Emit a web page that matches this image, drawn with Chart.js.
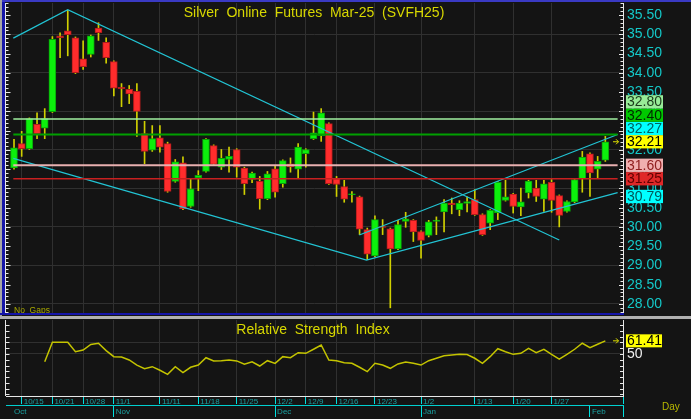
<!DOCTYPE html>
<html>
<head>
<meta charset="utf-8">
<script src="https://cdn.jsdelivr.net/npm/chart.js@4.4.1/dist/chart.umd.min.js"></script>
<style>
html, body { margin: 0; padding: 0; background: #141414; }
#wrap { position: relative; width: 691px; height: 419px; overflow: hidden; background: #141414; }
canvas { position: absolute; left: 0; }
#main { top: 0; width: 691px; height: 314px; }
#rsi { top: 319px; width: 691px; height: 100px; }
.band { position: absolute; z-index: 5; }
</style>
</head>
<body>
<div id="wrap">
  <canvas id="main" width="691" height="314"></canvas>
  <canvas id="rsi" width="691" height="100"></canvas>
  <div class="band" style="left:0;top:0;width:691px;height:2px;background:#3a3ac4"></div>
  <div class="band" style="left:0;top:0;width:2px;height:316px;background:#a4a4a4"></div>
  <div class="band" style="left:2px;top:2px;width:3px;height:312px;background:#1414a8"></div>
  <div class="band" style="left:0;top:313px;width:624px;height:2px;background:#1414a8"></div>
  <div class="band" style="left:0;top:316px;width:691px;height:3px;background:#b0b0b0"></div>
</div>
<script>
// daily bars, Silver Mar-25, oldest first
const opens = [31.53,32.16,32.03,32.66,32.56,32.99,34.96,35.09,34.91,34.36,
  34.48,35.16,34.79,34.29,33.62,33.57,33.52,32.42,31.99,32.31,
  32.16,31.18,31.66,30.53,31.27,31.44,32.11,31.55,31.75,32.01,
  31.53,31.23,31.18,30.73,31.51,31.12,31.64,31.50,31.90,32.29,
  32.37,32.68,31.25,31.05,30.84,30.78,29.93,29.25,30.01,29.95,
  29.43,30.14,30.17,29.88,29.78,30.14,30.39,30.62,30.45,30.61,
  30.71,30.32,30.10,30.36,30.69,30.85,30.52,30.88,31.01,30.72,
  31.16,30.81,30.40,30.65,31.25,31.90,31.50,31.73];
const highs = [32.27,32.48,32.83,32.96,33.07,34.94,35.04,35.62,34.93,34.83,
  34.98,35.30,34.91,34.31,33.72,33.67,33.72,32.74,32.63,32.63,
  32.20,31.75,31.82,31.24,31.46,32.29,32.13,32.01,32.07,32.03,
  31.55,31.42,31.31,31.44,31.57,31.74,31.79,32.16,32.03,32.98,
  33.07,32.70,31.31,31.21,30.92,30.80,29.97,30.29,30.19,29.97,
  30.17,30.38,30.19,29.90,30.17,30.26,30.71,30.75,30.68,30.78,
  30.97,30.34,30.45,31.18,31.21,30.87,31.01,31.21,31.21,31.21,
  31.23,30.83,30.68,31.25,31.96,31.92,31.83,32.35];
const lows = [31.50,31.83,32.01,32.29,32.29,32.97,34.39,34.44,33.98,34.09,
  34.41,34.84,34.25,33.40,33.12,33.20,32.35,31.64,31.96,31.94,
  30.90,31.16,30.45,30.51,30.94,31.42,31.60,31.49,31.42,31.29,
  30.84,31.15,30.46,30.71,30.77,31.03,31.42,31.27,31.55,32.27,
  32.22,31.10,30.79,30.64,30.64,29.80,29.15,29.23,29.80,27.90,
  29.41,29.99,29.62,29.19,29.74,29.80,29.87,30.34,30.29,30.39,
  30.30,29.78,29.93,30.19,30.67,30.36,30.29,30.75,30.66,30.40,
  30.38,30.00,30.38,30.63,30.90,30.79,31.27,31.70];
const closes = [32.05,32.03,32.81,32.42,32.81,34.87,34.91,34.99,34.00,34.16,
  34.96,35.04,34.39,33.60,33.59,33.45,33.00,31.96,32.29,32.07,
  30.92,31.69,30.47,30.99,31.34,32.27,31.62,31.78,31.83,31.55,
  31.12,31.40,30.73,31.38,30.90,31.72,31.56,32.07,32.01,32.44,
  32.96,31.12,31.10,30.72,30.86,29.94,29.29,30.19,29.99,29.43,
  30.06,30.21,29.87,29.65,30.13,30.18,30.62,30.58,30.62,30.66,
  30.32,29.80,30.43,31.16,30.78,30.53,30.65,31.19,30.79,31.12,
  30.69,30.30,30.66,31.23,31.81,31.40,31.70,32.21];
const rsi = [null,null,null,null,43.3,60.1,60.1,60.1,52.0,53.4,
  58.3,59.3,52.9,47.7,47.4,44.8,40.4,37.3,39.0,35.9,
  32.4,39.0,33.8,38.5,40.4,46.8,44.0,44.2,44.8,44.0,
  41.1,43.3,39.6,44.2,41.9,47.7,46.8,51.1,50.6,54.1,
  57.8,44.8,44.2,42.5,41.9,38.5,34.7,41.9,40.4,37.6,
  41.4,43.0,41.9,40.4,44.2,46.3,48.5,49.2,49.7,49.5,
  46.3,41.9,47.7,54.6,52.0,49.7,50.6,54.9,51.1,54.1,
  49.7,45.6,49.7,54.1,59.3,55.5,58.4,61.41];

// tick labels (bar index -> label)
const weekIdx = [1,5,9,13,19,24,29,34,38,42,47,53,60,65,70];
const weekLabels = ['10/15','10/21','10/28','11/1','11/11','11/18','11/25','12/2','12/9','12/16','12/23','1/2','1/13','1/20','1/27'];
const monthIdx = [-0.26,13,34,53,75];
const monthLabels = ['Oct','Nov','Dec','Jan','Feb'];
const priceTicks = [28,28.5,29,29.5,30,30.5,31,31.5,32,32.5,33,33.5,34,34.5,35,35.5];

// drawing tools: horizontal levels and trend channels, [barIndex, price]
const levels = [32.80, 32.40, 31.60, 31.25];
const lineFrom = -0.09, lineTo = 78.6;
const trendDown = [[-0.09,34.90],[7.0,35.64],[71.0,29.66]];
const trendLow = [[-0.09,31.78],[45.9,29.14],[78.6,30.89]];
const trendUp = [[44.96,29.79],[78.6,32.40]];
// price boxes on the right axis
const boxValues = [32.80, 32.40, 32.27, 32.21, 31.60, 31.25, 30.79];
const rsiLast = 61.41;

// styles
const upColor = '#0cf00c', downColor = '#ff2c2c';
const upEdge = '#08a008', downEdge = '#b01c1c';
const wickColor = '#d0d000';
const gridColor = '#303030';
const axisText = '#14c8c8';
const levelColors = ['#a0f0a0', '#00a000', '#e8b0b0', '#c82020'];
const levelWidths = [1.5, 2, 2, 1.5];
const channelColor = '#22c4d4';
const boxBg = ['#98ec98', '#00c800', '#00ffff', '#ffff00', '#f0b0b0', '#e02828', '#00ffff'];
const boxFg = ['#1a3a1a', '#002800', '#006060', '#000000', '#902020', '#600000', '#005858'];
const xMin = -1.042, xMax = 79.30;

const idx = closes.map((_, i) => i);
const isUp = idx.map(i => closes[i] >= opens[i]);

const lineSets = levels.map((v, k) => ({
  type: 'line', data: [{x: lineFrom, y: v}, {x: lineTo, y: v}],
  borderColor: levelColors[k], borderWidth: levelWidths[k], pointRadius: 0
}));
[trendDown, trendLow, trendUp].forEach(t => lineSets.push({
  type: 'line', data: t.map(p => ({x: p[0], y: p[1]})),
  borderColor: channelColor, borderWidth: 1.2, pointRadius: 0, tension: 0
}));

function zeroPad(s) { s.paddingTop = 0; s.paddingBottom = 0; s.paddingLeft = 0; s.paddingRight = 0; }

const mainDecor = {
  id: 'mainDecor',
  afterDraw(chart) {
    const {ctx, chartArea: a} = chart;
    const y = chart.scales.y;
    ctx.save();
    ctx.strokeStyle = '#e8e8e8';
    ctx.lineWidth = 1;
    ctx.beginPath();
    ctx.moveTo(a.left - 0.5, a.top); ctx.lineTo(a.left - 0.5, a.bottom);
    for (let k = Math.ceil(y.min * 10); k <= Math.floor(y.max * 10); k++) {
      const py = Math.round(y.getPixelForValue(k / 10)) + 0.5;
      const major = k % 5 === 0;
      ctx.moveTo(a.left - 0.5, py); ctx.lineTo(a.left - 0.5 + (major ? 5 : 3), py);
      ctx.moveTo(a.right, py); ctx.lineTo(a.right - (major ? 4 : 2.5), py);
    }
    ctx.stroke();

    // price boxes, pushed up so they do not overlap
    const h = 13.3;
    const bx = boxValues.map((v, i) => ({v: v, i: i, py: y.getPixelForValue(v)}));
    bx.sort((p, q) => q.py - p.py);
    let prev = Infinity;
    bx.forEach(b => { b.cy = Math.min(b.py, prev - h); prev = b.cy; });
    ctx.font = '14px Arial';
    ctx.textAlign = 'left';
    ctx.textBaseline = 'middle';
    bx.forEach(b => {
      ctx.fillStyle = boxBg[b.i];
      ctx.fillRect(626, b.cy - h / 2, 37, h);
      ctx.fillStyle = boxFg[b.i];
      ctx.fillText(b.v.toFixed(2), 627, b.cy + 0.5);
    });

    // last price arrow
    const ly = y.getPixelForValue(closes[closes.length - 1]);
    ctx.strokeStyle = '#e0e000';
    ctx.beginPath();
    ctx.moveTo(613, ly); ctx.lineTo(618.5, ly);
    ctx.moveTo(616, ly - 2.5); ctx.lineTo(618.5, ly); ctx.lineTo(616, ly + 2.5);
    ctx.stroke();

    ctx.fillStyle = '#d8d800';
    ctx.textAlign = 'center';
    ctx.textBaseline = 'alphabetic';
    ctx.font = '14px Arial';
    ctx.fillText('Silver  Online  Futures  Mar-25  (SVFH25)', 314, 16.5);
    ctx.fillStyle = '#a8a800';
    ctx.textAlign = 'left';
    ctx.font = '8.5px Arial';
    ctx.fillText('No  Gaps', 14, 313);
    ctx.restore();
  }
};

new Chart(document.getElementById('main'), {
  type: 'bar',
  data: {
    datasets: lineSets.concat([
      {
        type: 'bar', label: 'body', grouped: false, barThickness: 7,
        data: idx.map(i => ({x: i, y: [opens[i], closes[i]]})),
        backgroundColor: idx.map(i => isUp[i] ? upColor : downColor),
        borderColor: idx.map(i => isUp[i] ? upEdge : downEdge),
        borderWidth: 1, borderSkipped: false
      },
      {
        type: 'bar', label: 'wick', grouped: false, barThickness: 1,
        data: idx.map(i => ({x: i, y: [lows[i], highs[i]]})),
        backgroundColor: wickColor
      }
    ])
  },
  options: {
    responsive: false,
    devicePixelRatio: 1,
    animation: false,
    layout: {padding: {left: 6, right: 0, top: 3, bottom: 1}, autoPadding: false},
    plugins: {legend: {display: false}, tooltip: {enabled: false}, title: {display: false}},
    scales: {
      x: {
        type: 'linear', min: xMin, max: xMax, offset: false,
        grid: {color: gridColor, drawTicks: false, offset: false},
        border: {display: false},
        ticks: {display: false},
        afterBuildTicks: s => { s.ticks = weekIdx.map(v => ({value: v})); },
        afterFit: s => { s.height = 0; zeroPad(s); }
      },
      y: {
        type: 'linear', position: 'right', min: 27.7657, max: 35.8114,
        grid: {
          color: c => (c.tick && Number.isInteger(c.tick.value)) ? gridColor : 'rgba(0,0,0,0)',
          drawTicks: false
        },
        border: {color: '#e8e8e8', width: 1},
        ticks: {
          color: axisText, font: {family: 'Arial', size: 14}, padding: 4, crossAlign: 'near',
          autoSkip: false,
          callback: v => v.toFixed(2)
        },
        afterBuildTicks: s => { s.ticks = priceTicks.map(v => ({value: v})); },
        afterFit: s => { s.width = 68; zeroPad(s); }
      }
    }
  },
  plugins: [mainDecor]
});

const rsiDecor = {
  id: 'rsiDecor',
  afterDraw(chart) {
    const {ctx, chartArea: a} = chart;
    const y = chart.scales.y;
    ctx.save();
    ctx.strokeStyle = '#e8e8e8';
    ctx.lineWidth = 1;
    ctx.beginPath();
    ctx.moveTo(a.left - 0.5, a.top); ctx.lineTo(a.left - 0.5, a.bottom);
    for (let v = 15; v <= 75; v += 5) {
      const py = Math.round(y.getPixelForValue(v)) + 0.5;
      ctx.moveTo(a.left - 0.5, py); ctx.lineTo(a.left + 3.5, py);
      ctx.moveTo(a.right, py); ctx.lineTo(a.right - 3, py);
    }
    ctx.stroke();

    const ry = y.getPixelForValue(rsiLast);
    ctx.fillStyle = '#ffff00';
    ctx.fillRect(626, ry - 6.5, 36, 13);
    ctx.fillStyle = '#000000';
    ctx.font = '14px Arial';
    ctx.textBaseline = 'middle';
    ctx.textAlign = 'left';
    ctx.fillText(rsiLast.toFixed(2), 627, ry + 0.5);
    ctx.strokeStyle = '#e0e000';
    ctx.beginPath();
    ctx.moveTo(613, ry); ctx.lineTo(618.5, ry);
    ctx.moveTo(616, ry - 2.5); ctx.lineTo(618.5, ry); ctx.lineTo(616, ry + 2.5);
    ctx.stroke();

    ctx.textBaseline = 'alphabetic';
    ctx.textAlign = 'center';
    ctx.fillStyle = '#d8d800';
    ctx.fillText('Relative  Strength  Index', 313, 14.5);
    ctx.textAlign = 'left';
    ctx.fillStyle = '#b8b800';
    ctx.font = '10px Arial';
    ctx.fillText('Day', 662, 91);
    ctx.restore();
  }
};

new Chart(document.getElementById('rsi'), {
  type: 'line',
  data: {
    datasets: [{
      data: idx.filter(i => rsi[i] !== null).map(i => ({x: i, y: rsi[i]})),
      borderColor: '#c4c400', borderWidth: 1.5, pointRadius: 0, tension: 0
    }]
  },
  options: {
    responsive: false,
    devicePixelRatio: 1,
    animation: false,
    layout: {padding: {left: 6, right: 0, top: 1, bottom: 0}, autoPadding: false},
    plugins: {legend: {display: false}, tooltip: {enabled: false}},
    scales: {
      x: {
        type: 'linear', position: 'bottom', min: xMin, max: xMax, offset: false, weight: 0,
        grid: {color: gridColor, tickColor: '#00e0e0', tickLength: 8},
        border: {color: '#e8e8e8', width: 1},
        ticks: {
          color: '#1aa0a0', font: {family: 'Arial', size: 8}, align: 'start', labelOffset: 2,
          padding: -7, autoSkip: false, maxRotation: 0, minRotation: 0,
          callback: v => { const k = weekIdx.indexOf(v); return k >= 0 ? weekLabels[k] : ''; }
        },
        afterBuildTicks: s => { s.ticks = weekIdx.concat([xMax]).map(v => ({value: v})); },
        afterFit: s => { s.height = 9; zeroPad(s); }
      },
      xm: {
        type: 'linear', position: 'bottom', min: xMin, max: xMax, offset: false, weight: 1,
        grid: {
          drawOnChartArea: false, tickLength: 12,
          tickColor: c => c.index === 0 ? 'rgba(0,0,0,0)' : '#00e0e0'
        },
        border: {color: '#00d0d0', width: 1},
        ticks: {
          color: '#1aa0a0', font: {family: 'Arial', size: 8}, align: 'start', labelOffset: 2,
          padding: -10, autoSkip: false, maxRotation: 0, minRotation: 0,
          callback: v => { const k = monthIdx.indexOf(v); return k >= 0 ? monthLabels[k] : ''; }
        },
        afterBuildTicks: s => { s.ticks = monthIdx.concat([xMax]).map(v => ({value: v})); },
        afterFit: s => { s.height = 14; zeroPad(s); }
      },
      y: {
        type: 'linear', position: 'right', min: 13.6, max: 79.46,
        grid: {color: gridColor, drawTicks: false},
        border: {color: '#e8e8e8', width: 1},
        ticks: {
          color: '#f0f0f0', font: {family: 'Arial', size: 14}, padding: 4, crossAlign: 'near',
          autoSkip: false,
          callback: v => v === 50 ? '50' : ''
        },
        afterBuildTicks: s => { s.ticks = [{value: 50}, {value: 60}]; },
        afterFit: s => { s.width = 68; zeroPad(s); }
      }
    }
  },
  plugins: [rsiDecor]
});
</script>
</body>
</html>
